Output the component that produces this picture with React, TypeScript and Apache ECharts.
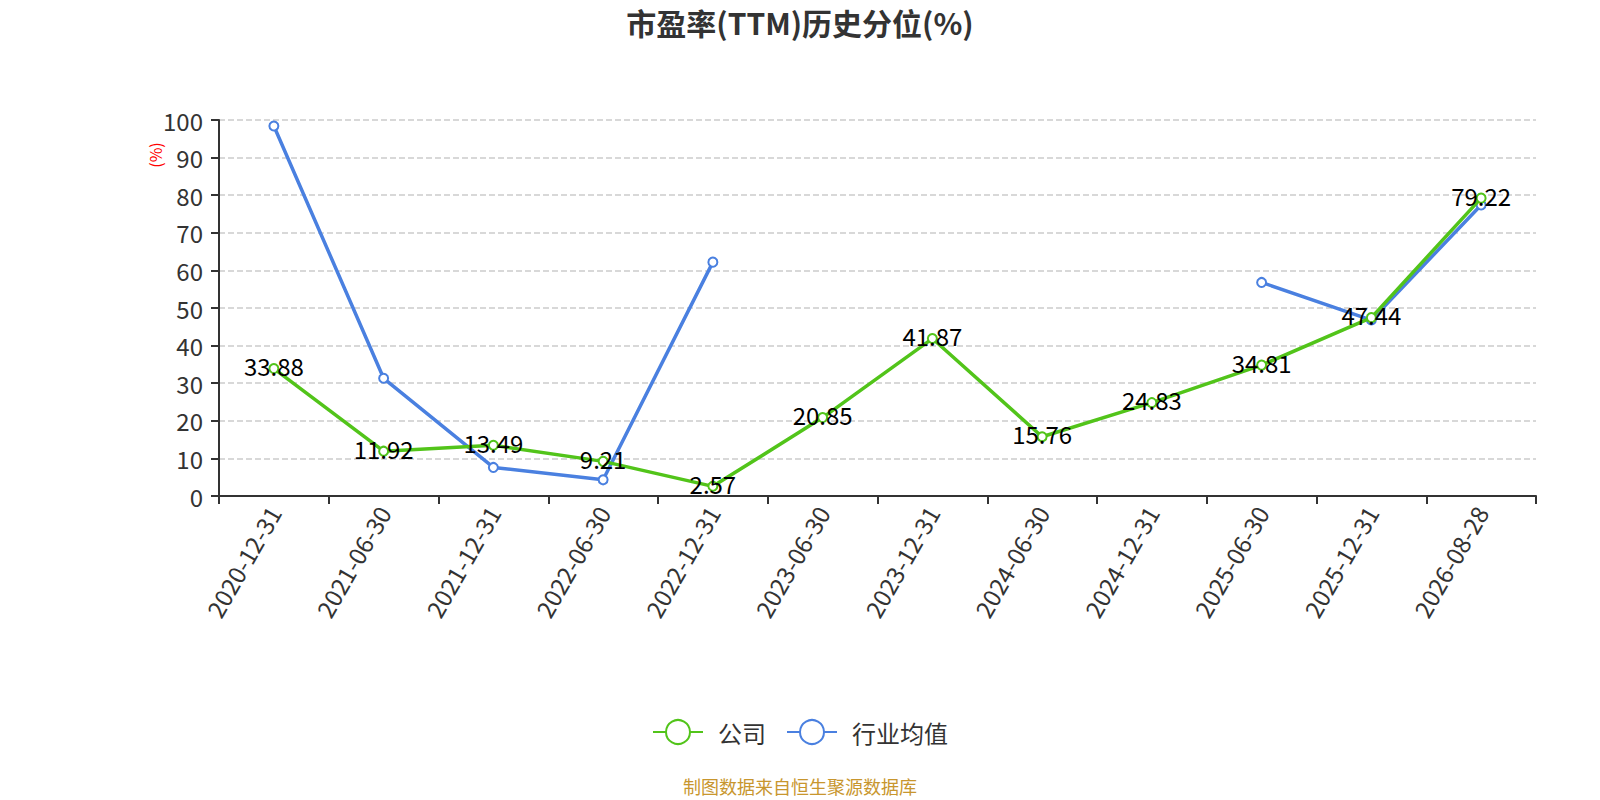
import React, { useEffect, useRef } from "react";
import * as echarts from "echarts";

const categories = [
  "2020-12-31", "2021-06-30", "2021-12-31", "2022-06-30", "2022-12-31", "2023-06-30",
  "2023-12-31", "2024-06-30", "2024-12-31", "2025-06-30", "2025-12-31", "2026-08-28",
];
const companyValues = [33.88, 11.92, 13.49, 9.21, 2.57, 20.85, 41.87, 15.76, 24.83, 34.81, 47.44, 79.22];
const industryValues = [98.4, 31.3, 7.6, 4.3, 62.2, null, null, null, null, 56.8, 46.8, 77.4];
const seriesNames = ["公司", "行业均值"];
const titleText = "市盈率(TTM)历史分位(%)";
const footerText = "制图数据来自恒生聚源数据库";
const yUnit = "(%)";

const FONT = "'Noto Sans CJK SC', 'Noto Sans', sans-serif";
const GREEN = "#52c41a";
const BLUE = "#4a80e0";

export default function App() {
  const ref = useRef<HTMLDivElement>(null);
  useEffect(() => {
    if (!ref.current) return;
    const chart = echarts.init(ref.current, null, { renderer: "svg" });
    chart.setOption({
      animation: false,
      textStyle: { fontFamily: FONT },
      title: {
        text: titleText,
        left: "center",
        top: 2,
        textStyle: { fontSize: 30, fontWeight: "bold", color: "#333", fontFamily: FONT },
      },
      legend: {
        bottom: 50,
        left: "center",
        itemWidth: 50,
        itemHeight: 30,
        itemGap: 20,
        textStyle: { fontSize: 24, color: "#333", fontFamily: FONT, padding: [0, 0, 0, 10] },
        data: seriesNames,
      },
      grid: { left: 219, right: 64, top: 120, bottom: 304 },
      graphic: [
        {
          type: "text",
          left: "center",
          top: 777,
          style: { text: footerText, fontSize: 18, fill: "#c8962e", fontFamily: FONT },
        },
        {
          type: "text",
          x: 155,
          y: 155,
          rotation: Math.PI / 2,
          style: {
            text: yUnit,
            fontSize: 16,
            fill: "#ff0000",
            fontFamily: FONT,
            align: "center",
            verticalAlign: "middle",
          },
        },
      ],
      xAxis: {
        type: "category",
        data: categories,
        boundaryGap: true,
        axisLine: { lineStyle: { color: "#333", width: 2 } },
        axisTick: { show: true, alignWithLabel: false, length: 8, lineStyle: { color: "#333", width: 2 } },
        axisLabel: { rotate: 60, fontSize: 24, color: "#333", margin: 12, interval: 0, fontFamily: FONT },
      },
      yAxis: {
        type: "value",
        min: 0,
        max: 100,
        interval: 10,
        axisLine: { show: true, lineStyle: { color: "#333", width: 2 } },
        axisTick: { show: true, length: 8, lineStyle: { color: "#333", width: 2 } },
        axisLabel: { fontSize: 24, color: "#333", margin: 16, fontFamily: FONT },
        splitLine: { show: true, lineStyle: { type: "dashed", color: "#ccc", width: 1.5 } },
      },
      series: [
        {
          name: seriesNames[0],
          type: "line",
          data: companyValues,
          symbol: "emptyCircle",
          symbolSize: 9,
          color: GREEN,
          lineStyle: { width: 3.5, color: GREEN },
          itemStyle: { color: GREEN, borderWidth: 2 },
          label: {
            show: true,
            position: "inside",
            offset: [0, -3],
            fontSize: 24,
            color: "#000",
            fontFamily: FONT,
          },
          z: 3,
        },
        {
          name: seriesNames[1],
          type: "line",
          data: industryValues,
          connectNulls: false,
          symbol: "emptyCircle",
          symbolSize: 9,
          color: BLUE,
          lineStyle: { width: 3.5, color: BLUE },
          itemStyle: { color: BLUE, borderWidth: 2 },
          z: 2,
        },
      ],
    });
    return () => chart.dispose();
  }, []);
  return (
    <div
      ref={ref}
      style={{ position: "fixed", left: 0, top: 0, width: 1600, height: 800, background: "#fff" }}
    />
  );
}
